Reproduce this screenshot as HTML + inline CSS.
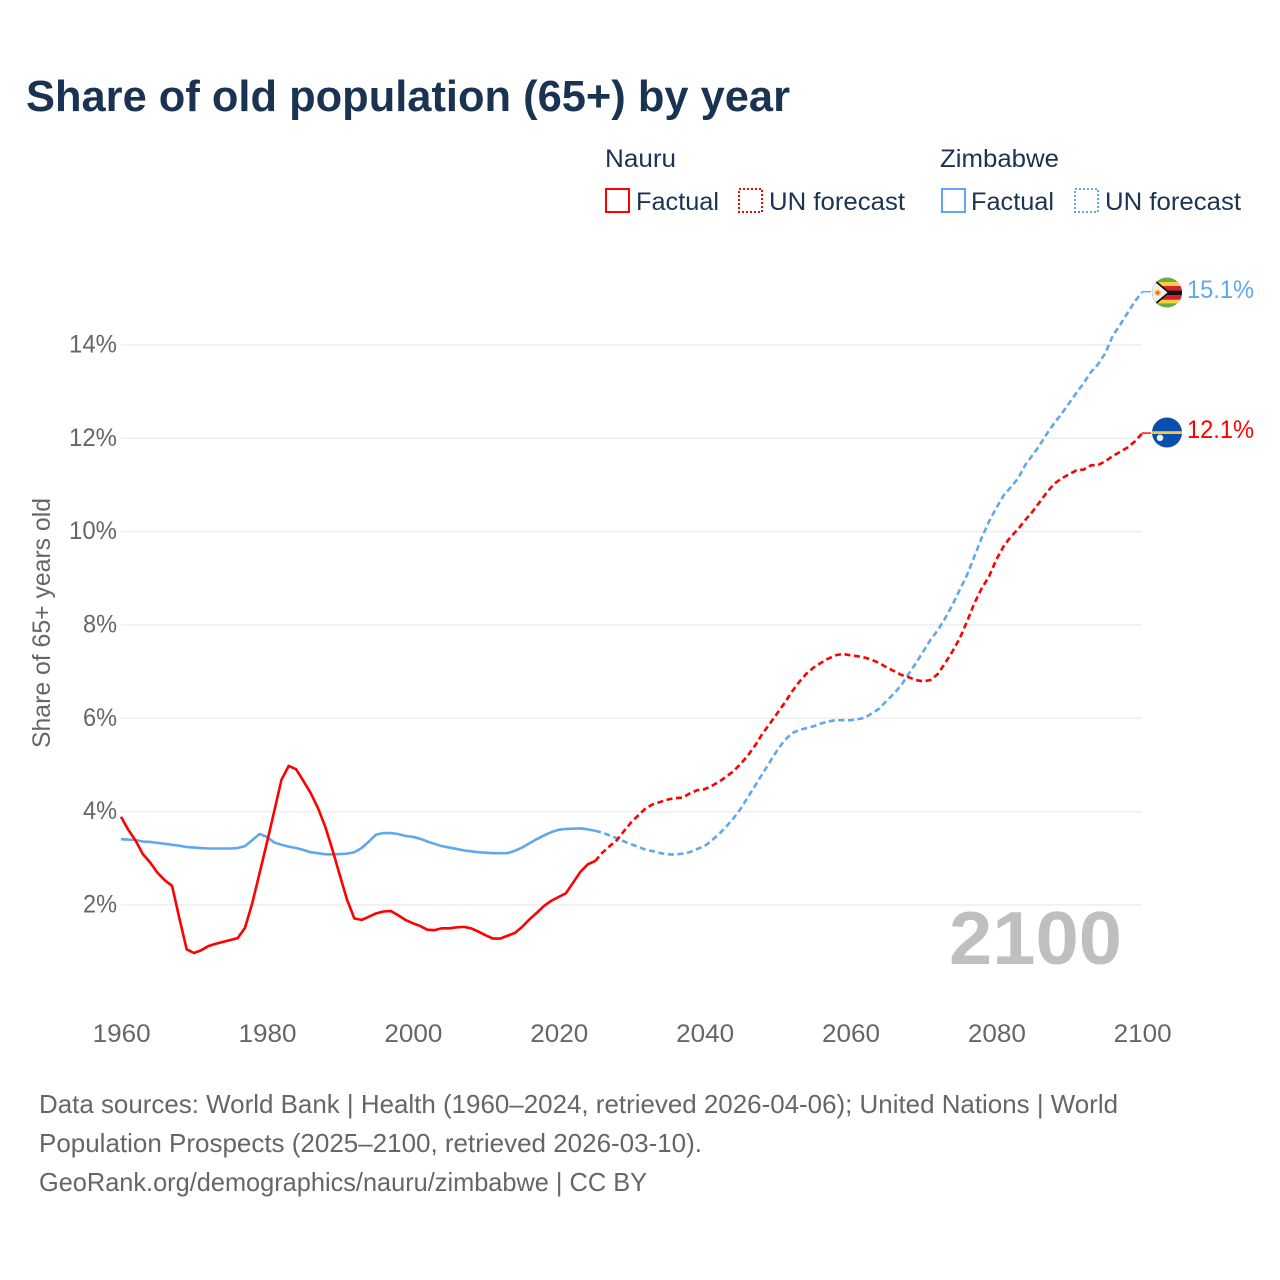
<!DOCTYPE html>
<html lang="en">
<head>
<meta charset="utf-8">
<title>Share of old population (65+) by year</title>
<style>
html,body{margin:0;padding:0;background:#fff;width:1280px;height:1280px;overflow:hidden}
svg{display:block}
text{font-family:"Liberation Sans",sans-serif}
</style>
</head>
<body>
<svg id="chart" xmlns="http://www.w3.org/2000/svg" width="1280" height="1280" viewBox="0 0 1280 1280">
  <defs>
    <clipPath id="clip-zw"><circle cx="1167" cy="292.5" r="15"/></clipPath>
    <clipPath id="clip-nr"><circle cx="1167" cy="432.5" r="15"/></clipPath>
  </defs>
  <rect x="0" y="0" width="1280" height="1280" fill="#fff"/>
  <text x="26" y="111" font-size="44" font-weight="700" fill="#1a3352" textLength="764" lengthAdjust="spacingAndGlyphs">Share of old population (65+) by year</text>

  <g fill="#1a3352" font-size="25">
    <text x="605" y="167" textLength="71" lengthAdjust="spacingAndGlyphs">Nauru</text>
    <rect x="606" y="189" width="23" height="23" fill="none" stroke="#ff0000" stroke-width="2"/>
    <text x="636" y="210" textLength="83" lengthAdjust="spacingAndGlyphs">Factual</text>
    <rect x="739" y="189" width="23" height="23" fill="none" stroke="#ff0000" stroke-width="2" stroke-dasharray="2 2"/>
    <text x="769" y="210" textLength="136" lengthAdjust="spacingAndGlyphs">UN forecast</text>
    <text x="940" y="167" textLength="119" lengthAdjust="spacingAndGlyphs">Zimbabwe</text>
    <rect x="942" y="189" width="23" height="23" fill="none" stroke="#60a8ee" stroke-width="2"/>
    <text x="971" y="210" textLength="83" lengthAdjust="spacingAndGlyphs">Factual</text>
    <rect x="1075" y="189" width="23" height="23" fill="none" stroke="#60a8ee" stroke-width="2" stroke-dasharray="2 2"/>
    <text x="1105" y="210" textLength="136" lengthAdjust="spacingAndGlyphs">UN forecast</text>
  </g>

  <g id="grid"></g>
  <g id="yticks"></g>
  <g id="xticks"></g>
  <text transform="translate(50,623) rotate(-90)" text-anchor="middle" font-size="25" fill="#666" textLength="250" lengthAdjust="spacingAndGlyphs">Share of 65+ years old</text>
  <text x="949" y="964" font-size="75" font-weight="700" fill="#bfbfbf" textLength="173" lengthAdjust="spacingAndGlyphs">2100</text>
  <g id="series"></g>

  <g clip-path="url(#clip-zw)">
    <rect x="1152" y="277" width="30" height="31" fill="#6fa84a"/>
    <rect x="1152" y="282" width="30" height="4" fill="#f5d33f"/>
    <rect x="1152" y="286" width="30" height="4.6" fill="#d8202c"/>
    <rect x="1152" y="290.6" width="30" height="4.6" fill="#111"/>
    <rect x="1152" y="295.2" width="30" height="4.6" fill="#d8202c"/>
    <rect x="1152" y="299.8" width="30" height="3.6" fill="#f5d33f"/>
    <polygon points="1152,277 1170,292.5 1152,308" fill="#111"/>
    <polygon points="1152,279.5 1167.5,292.5 1152,305.5" fill="#efefef"/>
    <circle cx="1157.7" cy="292.7" r="3" fill="#f2b632"/>
    <circle cx="1157.7" cy="292.7" r="1" fill="#d8202c"/>
  </g>
  <g clip-path="url(#clip-nr)">
    <rect x="1152" y="417" width="30" height="31" fill="#0a4fae"/>
    <rect x="1152" y="431.2" width="30" height="2.8" fill="#f5c93f"/>
    <circle cx="1160" cy="437.8" r="3.3" fill="#f2f2f2"/>
  </g>
  <text id="label-zw" x="1187" y="298" font-size="25" fill="#60a8ee" textLength="67" lengthAdjust="spacingAndGlyphs">15.1%</text>
  <text id="label-nr" x="1187" y="438" font-size="25" fill="#ff0000" textLength="67" lengthAdjust="spacingAndGlyphs">12.1%</text>

  <g font-size="26" fill="#666">
    <text x="39" y="1113" textLength="1079" lengthAdjust="spacingAndGlyphs">Data sources: World Bank | Health (1960–2024, retrieved 2026-04-06); United Nations | World</text>
    <text x="39" y="1152" textLength="663" lengthAdjust="spacingAndGlyphs">Population Prospects (2025–2100, retrieved 2026-03-10).</text>
    <text x="39" y="1191" textLength="608" lengthAdjust="spacingAndGlyphs">GeoRank.org/demographics/nauru/zimbabwe | CC BY</text>
  </g>
</svg>
<script>
const xTickYears = [1960, 1980, 2000, 2020, 2040, 2060, 2080, 2100];
const yTickValues = [2, 4, 6, 8, 10, 12, 14];
const yTickLabels = ["2%", "4%", "6%", "8%", "10%", "12%", "14%"];
const factualStartYear = 1960;
const forecastStartYear = 2025;
const nauruFactual = [3.89,3.61,3.38,3.09,2.91,2.69,2.53,2.41,1.72,1.05,0.97,1.03,1.12,1.17,1.21,1.25,1.29,1.51,2.04,2.68,3.33,4.0,4.68,4.98,4.91,4.66,4.40,4.08,3.68,3.18,2.64,2.11,1.71,1.68,1.75,1.82,1.86,1.87,1.78,1.68,1.61,1.55,1.47,1.46,1.50,1.50,1.52,1.53,1.50,1.43,1.35,1.28,1.28,1.34,1.40,1.53,1.69,1.83,1.98,2.09,2.17,2.25,2.48,2.71,2.87,2.94];
const nauruForecast = [2.94,3.12,3.26,3.39,3.59,3.78,3.93,4.08,4.16,4.21,4.26,4.29,4.30,4.39,4.46,4.48,4.55,4.64,4.75,4.87,5.03,5.21,5.43,5.68,5.89,6.11,6.33,6.57,6.78,6.96,7.09,7.19,7.28,7.35,7.38,7.35,7.33,7.30,7.25,7.18,7.09,7.01,6.93,6.88,6.82,6.79,6.82,6.95,7.18,7.43,7.71,8.07,8.46,8.78,9.03,9.39,9.68,9.89,10.05,10.25,10.43,10.64,10.85,11.03,11.14,11.23,11.31,11.33,11.42,11.43,11.51,11.62,11.71,11.80,11.93,12.1];
const zimbabweFactual = [3.41,3.40,3.39,3.36,3.35,3.33,3.31,3.29,3.27,3.24,3.23,3.22,3.21,3.21,3.21,3.21,3.22,3.26,3.39,3.52,3.46,3.34,3.29,3.25,3.22,3.18,3.13,3.11,3.085,3.085,3.09,3.10,3.13,3.22,3.36,3.51,3.54,3.54,3.52,3.48,3.46,3.42,3.36,3.31,3.26,3.23,3.20,3.17,3.15,3.13,3.12,3.11,3.11,3.11,3.16,3.23,3.32,3.41,3.49,3.56,3.61,3.63,3.635,3.64,3.62,3.59];
const zimbabweForecast = [3.59,3.55,3.49,3.43,3.36,3.30,3.24,3.18,3.15,3.11,3.085,3.08,3.10,3.13,3.20,3.26,3.38,3.52,3.68,3.86,4.07,4.32,4.57,4.82,5.07,5.32,5.53,5.68,5.75,5.79,5.83,5.89,5.93,5.96,5.96,5.96,5.98,6.01,6.11,6.21,6.38,6.53,6.71,6.95,7.18,7.43,7.68,7.89,8.14,8.43,8.75,9.07,9.46,9.86,10.21,10.50,10.77,10.95,11.14,11.43,11.64,11.86,12.11,12.33,12.53,12.75,12.97,13.18,13.42,13.59,13.83,14.2,14.43,14.68,14.93,15.13];

const SVG_NS = "http://www.w3.org/2000/svg";
function xScale(year) { return 121 + (year - 1960) * (1142 - 121) / 140; }
function yScale(value) { return 998.3 - value * 46.67; }
function pathFor(values, startYear) {
  return values.map(function (v, i) {
    return (i ? "L" : "M") + xScale(startYear + i).toFixed(2) + " " + yScale(v).toFixed(2);
  }).join(" ");
}

const gridGroup = document.getElementById("grid");
const yGroup = document.getElementById("yticks");
yTickValues.forEach(function (v, i) {
  const line = document.createElementNS(SVG_NS, "line");
  
  
  line.setAttribute("x1", xScale(1960));
  line.setAttribute("x2", xScale(2100));
  line.setAttribute("y1", yScale(v));
  line.setAttribute("y2", yScale(v));
  line.setAttribute("stroke", "#eeeeee");
  line.setAttribute("stroke-width", "1.6");
  gridGroup.appendChild(line);
  const t = document.createElementNS(SVG_NS, "text");
  
  
  t.setAttribute("x", "117");
  t.setAttribute("y", yScale(v) + 7.5);
  t.setAttribute("text-anchor", "end");
  t.setAttribute("font-size", "25");
  t.setAttribute("fill", "#666");
  t.setAttribute("textLength", yTickLabels[i].length === 3 ? "48" : "34");
  t.setAttribute("lengthAdjust", "spacingAndGlyphs");
  t.textContent = yTickLabels[i];
  yGroup.appendChild(t);
});

const xGroup = document.getElementById("xticks");
xTickYears.forEach(function (yr) {
  const t = document.createElementNS(SVG_NS, "text");
  
  
  t.setAttribute("x", xScale(yr) + 0.7);
  t.setAttribute("y", "1042");
  t.setAttribute("text-anchor", "middle");
  t.setAttribute("font-size", "25");
  t.setAttribute("fill", "#666");
  t.setAttribute("textLength", "58");
  t.setAttribute("lengthAdjust", "spacingAndGlyphs");
  t.textContent = yr;
  xGroup.appendChild(t);
});

const seriesGroup = document.getElementById("series");
function addLine(d, color, dashed) {
  const p = document.createElementNS(SVG_NS, "path");
  
  
  p.setAttribute("d", d);
  p.setAttribute("fill", "none");
  p.setAttribute("stroke", color);
  p.setAttribute("stroke-width", "2.6");
  p.setAttribute("stroke-linejoin", "round");
  if (dashed) p.setAttribute("stroke-dasharray", "6 3.6");
  seriesGroup.appendChild(p);
}
const blue = "#60a8ee";
const red = "#ff0000";
addLine(pathFor(zimbabweFactual, factualStartYear), blue, false);
addLine(pathFor(zimbabweForecast, forecastStartYear), blue, true);
addLine(pathFor(nauruFactual, factualStartYear), red, false);
addLine(pathFor(nauruForecast, forecastStartYear), red, true);

function addStub(value, color) {
  const s = document.createElementNS(SVG_NS, "line");
  
  
  s.setAttribute("x1", xScale(2100));
  s.setAttribute("x2", xScale(2100) + 9);
  s.setAttribute("y1", yScale(value) - 0.5);
  s.setAttribute("y2", yScale(value) - 0.5);
  s.setAttribute("stroke", color);
  s.setAttribute("stroke-width", "1.4");
  seriesGroup.appendChild(s);
}
addStub(zimbabweForecast[zimbabweForecast.length - 1], blue);
addStub(nauruForecast[nauruForecast.length - 1], red);
</script>
</body>
</html>
